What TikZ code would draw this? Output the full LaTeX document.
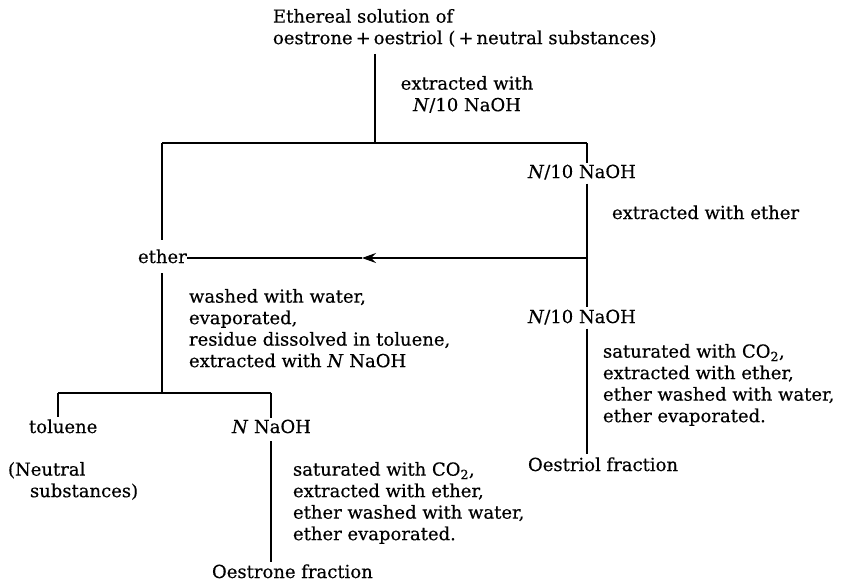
\documentclass[tikz,border=0pt]{standalone}
\usepackage{fontspec}
\setmainfont{DejaVu Serif}[FakeBold=0.35]
\usetikzlibrary{arrows.meta}
\newcommand{\dfont}{\fontsize{18}{21.5}\selectfont}
\tikzset{
  lbl/.style={inner sep=0pt, outer sep=0pt, font=\dfont},
  blk/.style={lbl, align=left},
  cblk/.style={lbl, align=center},
  ln/.style={line width=1.1pt, draw=black},
  arr/.style={ln, -{Stealth[length=14pt,width=10pt,inset=5pt]}}
}
\begin{document}
\begin{tikzpicture}[x=1pt,y=-1pt]
\useasboundingbox[fill=white] (0,0) rectangle (848,581);
% texts
\node[blk, anchor=north west] (title) at (273,9) {Ethereal solution of\\oestrone\,+\,oestriol (\,+\,neutral substances)};
\node[cblk, anchor=north] (ext1) at (467,76) {extracted with\\\textit{N}/10 NaOH};
\node[lbl, anchor=base west] (naoh1) at (528,178) {\textit{N}/10 NaOH};
\node[lbl, anchor=base west] (ext2) at (612,219) {extracted with ether};
\node[lbl, anchor=base west] (ether) at (138,263) {ether};
\node[lbl, anchor=base west] (naoh2) at (528,323) {\textit{N}/10 NaOH};
\node[blk, anchor=north west] (rblk) at (603,344) {saturated with CO\textsubscript{2},\\extracted with ether,\\ether washed with water,\\ether evaporated.};
\node[lbl, anchor=base west] (oestriol) at (528,471) {Oestriol fraction};
\node[blk, anchor=north west] (wash) at (189,289) {washed with water,\\evaporated,\\residue dissolved in toluene,\\extracted with \textit{N} NaOH};
\node[lbl, anchor=base west] (toluene) at (29,433) {toluene};
\node[lbl, anchor=base west] (nnaoh) at (232,433) {\textit{N} NaOH};
\node[blk, anchor=north west] (neutral) at (8,462) {(Neutral\\\hspace*{22pt}substances)};
\node[blk, anchor=north west] (lblk) at (293,462) {saturated with CO\textsubscript{2},\\extracted with ether,\\ether washed with water,\\ether evaporated.};
\node[lbl, anchor=base west] (oestrone) at (212,578) {Oestrone fraction};
% junctions
\coordinate (j0) at (375,143);
\coordinate (jl) at (162,143);
\coordinate (jr) at (587,143);
\coordinate (jarr) at (587,258);
\coordinate (ah) at (362,258);
\coordinate (jb) at (162,393);
\coordinate (jt) at (58,393);
\coordinate (jn) at (271,393);
% connectors
\draw[ln] ([yshift=-7pt]title.south -| j0) -- (j0);
\draw[ln] (jl) -- (jr);
\draw[ln] (jl) -- ([yshift=9pt]ether.north -| jl);
\draw[ln] (jr) -- ([yshift=2pt]naoh1.north -| jr);
\draw[ln] ([yshift=-4pt]naoh1.south -| jr) -- ([yshift=3pt]naoh2.north -| jr);
\draw[arr] (jarr) -- (ah);
\draw[ln] (ah) -- (ah -| ether.east);
\draw[ln] ([yshift=-4pt]naoh2.south -| jr) -- ([yshift=3pt]oestriol.north -| jr);
\draw[ln] ([yshift=-10pt]ether.south -| jb) -- (jb);
\draw[ln] (jt) -- (jn);
\draw[ln] (jt) -- ([yshift=2pt]toluene.north -| jt);
\draw[ln] (jn) -- ([yshift=2pt]nnaoh.north -| jn);
\draw[ln] ([yshift=-8pt]nnaoh.south -| jn) -- ([yshift=2pt]oestrone.north -| jn);
\end{tikzpicture}
\end{document}
